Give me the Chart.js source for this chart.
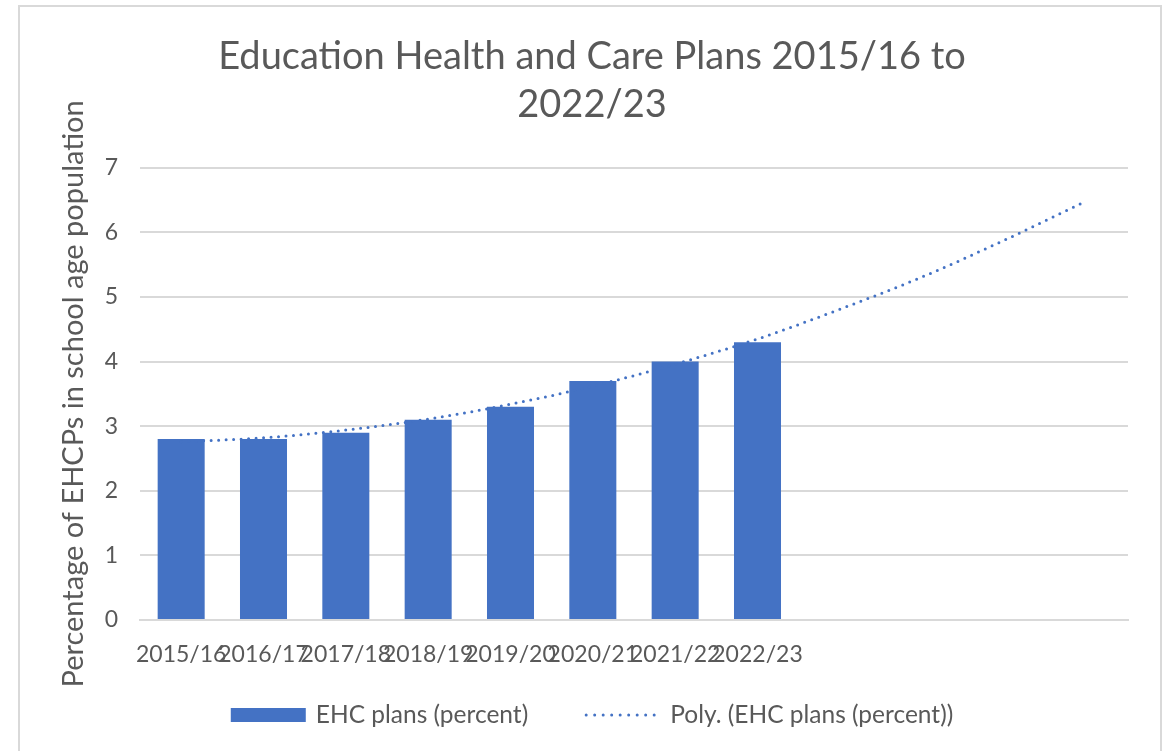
<!DOCTYPE html>
<html>
<head>
<meta charset="utf-8">
<script src="https://cdn.jsdelivr.net/npm/chart.js@4/dist/chart.umd.min.js"></script>
<style>
  html, body { margin: 0; padding: 0; background: #fff; }
  #wrap { width: 1173px; height: 751px; position: relative; }
</style>
</head>
<body>
<div id="wrap"><canvas id="myChart" width="1173" height="751"></canvas></div>
<script>
'use strict';

// school years, the last four slots are left blank for the trend forecast
const years = [ '2015/16', '2016/17', '2017/18', '2018/19', '2019/20', '2020/21', '2021/22', '2022/23', '', '', '', '' ];
const ehcPlans = [ 2.8, 2.8, 2.9, 3.1, 3.3, 3.7, 4.0, 4.3 ];
const polyTrend = [ 2.76, 2.82, 2.94, 3.11, 3.34, 3.62, 3.96, 4.35, 4.81, 5.31, 5.88, 6.49 ];
const yTicks = [ 0, 1, 2, 3, 4, 5, 6, 7 ];

const blue = '#4472c4';
const grey = '#595959';
const gridGrey = '#d9d9d9';
const font = 'Lato';

// light frame round the chart
const frame = {
  id: 'frame',
  beforeDraw( chart ) {
    let ctx = chart.ctx;
    ctx.save();
    ctx.strokeStyle = gridGrey;
    ctx.lineWidth = 2;
    ctx.beginPath();
    ctx.moveTo( 19, 800 );
    ctx.lineTo( 19, 6 );
    ctx.lineTo( 1161, 6 );
    ctx.lineTo( 1161, 800 );
    ctx.stroke();
    ctx.restore();
  }
};

// legend under the axis: bar swatch first, then the dotted trend line
const bottomLegend = {
  id: 'bottomLegend',
  afterDraw( chart ) {
    let ctx = chart.ctx;
    let bars = chart.data.datasets[1];
    let trend = chart.data.datasets[0];
    let y = 715;
    ctx.save();
    ctx.font = `24.5px ${font}`;
    ctx.textBaseline = 'middle';
    ctx.fillStyle = grey;
    let w1 = ctx.measureText( bars.label ).width;
    let w2 = ctx.measureText( trend.label ).width;
    let total = 75 + 10 + w1 + 56 + 72 + 14 + w2;
    let x = 592 - total / 2;

    ctx.fillStyle = bars.backgroundColor;
    ctx.fillRect( x, y - 7, 75, 14 );
    x += 85;
    ctx.fillStyle = grey;
    ctx.fillText( bars.label, x, y );
    x += w1 + 56;

    ctx.strokeStyle = trend.borderColor;
    ctx.lineWidth = 3;
    ctx.lineCap = 'round';
    ctx.setLineDash( [ 0, 8.5 ] );
    ctx.beginPath();
    ctx.moveTo( x + 2, y );
    ctx.lineTo( x + 72, y );
    ctx.stroke();
    x += 86;
    ctx.fillText( trend.label, x, y );
    ctx.restore();
  }
};

let ctx = document.getElementById( 'myChart' ).getContext( '2d' );
let myChart = new Chart( ctx, {
  data: {
    labels: years,
    datasets: [ {
      type: 'line',
      label: 'Poly. (EHC plans (percent))',
      data: polyTrend,
      borderColor: blue,
      backgroundColor: blue,
      borderWidth: 3,
      borderDash: [ 0, 7.5 ],
      borderCapStyle: 'round',
      pointRadius: 0,
      cubicInterpolationMode: 'monotone',
      order: 0
    }, {
      type: 'bar',
      label: 'EHC plans (percent)',
      data: ehcPlans,
      backgroundColor: blue,
      barPercentage: 0.571,
      categoryPercentage: 1,
      order: 1
    } ]
  },
  options: {
    responsive: false,
    animation: false,
    layout: {
      padding: { left: 56, right: 45, top: 0, bottom: 73 }
    },
    plugins: {
      title: {
        display: true,
        text: [ 'Education Health and Care Plans 2015/16 to', '2022/23' ],
        color: grey,
        font: { family: font, size: 38, weight: 'normal', lineHeight: 1.26 },
        padding: { top: 33, bottom: 39 }
      },
      legend: { display: false },
      tooltip: { enabled: false }
    },
    scales: {
      x: {
        grid: { display: false },
        border: { color: gridGrey, width: 2 },
        ticks: {
          color: grey,
          font: { family: font, size: 23 },
          autoSkip: false,
          maxRotation: 0,
          minRotation: 0,
          padding: 13
        },
        afterFit( scale ) { scale.height = 58; }
      },
      y: {
        min: 0,
        max: 7,
        afterBuildTicks( scale ) { scale.ticks = yTicks.map( v => ( { value: v } ) ); },
        grid: { color: gridGrey, lineWidth: 2, drawTicks: false },
        border: { display: false },
        ticks: {
          color: grey,
          font: { family: font, size: 23 },
          padding: 22
        },
        title: {
          display: true,
          text: 'Percentage of EHCPs in school age population',
          color: grey,
          font: { family: font, size: 29 },
          padding: 0
        },
        afterFit( scale ) { scale.width = 84; }
      }
    }
  },
  plugins: [ frame, bottomLegend ]
} );
</script>
</body>
</html>
